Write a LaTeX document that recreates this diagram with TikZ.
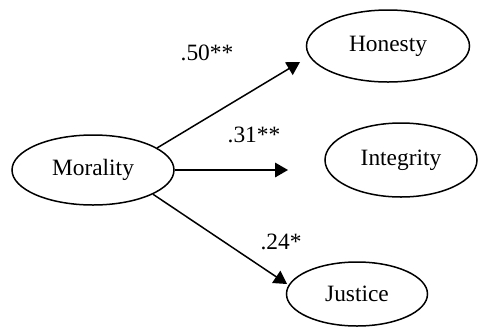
\documentclass[tikz,border=0pt]{standalone}
\usepackage{fontspec}
\setmainfont{Liberation Serif}
\usetikzlibrary{arrows}
\usetikzlibrary{shapes.geometric}

\begin{document}
\begin{tikzpicture}[x=0.5pt,y=-0.5pt,
  latent/.style={ellipse,draw,line width=0.75,inner sep=0pt,font=\fontsize{11.7}{14}\selectfont},
  coef/.style={inner sep=0pt,font=\fontsize{11.7}{14}\selectfont},
  path/.style={-triangle 60,line width=0.75}]
\useasboundingbox (0,0) rectangle (478,328);

\node[latent,minimum width=81pt,minimum height=35pt] (mor) at (93,170) {Morality};
\node[latent,minimum width=81.5pt,minimum height=36pt] (hon) at (388,46) {Honesty};
\node[latent,minimum width=76pt,minimum height=37pt] (int) at (401,160) {Integrity};
\node[latent,minimum width=70.5pt,minimum height=32pt] (jus) at (357,294) {Justice};

% arrow tips stop short of the outcomes
\coordinate (honTip) at (300,62);
\coordinate (intTip) at (288,170);
\coordinate (jusTip) at (287,284);

\draw[path] (mor.19) -- (honTip);
\draw[path] (mor.east) -- (intTip);
\draw[path] (mor.-22) -- (jusTip);

\node[coef] (b1) at (207,53) {.50**};
\node[coef] (b2) at (254,135) {.31**};
\node[coef] (b3) at (281,242) {.24*};
\end{tikzpicture}
\end{document}
